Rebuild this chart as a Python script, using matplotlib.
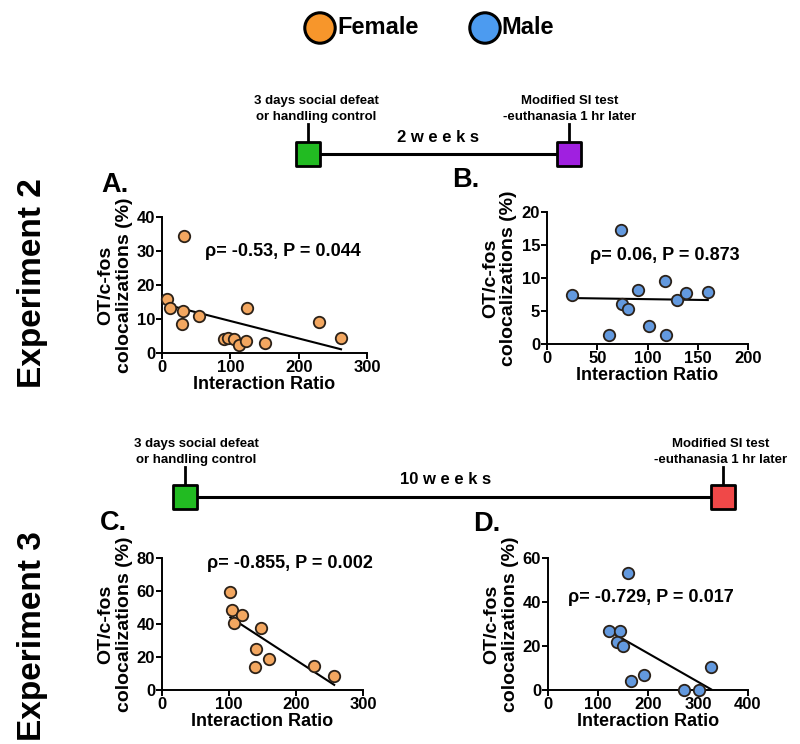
import matplotlib
matplotlib.use("Agg")
import matplotlib.pyplot as plt
import numpy as np

plt.rcParams["font.family"] = ["Liberation Sans", "DejaVu Sans"]
plt.rcParams["font.weight"] = "bold"

# experiment 2, 2 weeks
ir_a = [7, 11, 30, 29, 32, 54, 90, 97, 105, 113, 123, 124, 150, 230, 262]
ot_a = [16.0, 13.2, 12.5, 8.4, 34.4, 10.8, 4.0, 4.4, 4.0, 2.5, 3.5, 13.3, 2.9, 9.0, 4.5]
ir_b = [25, 62, 74, 75, 81, 91, 101, 117, 118, 129, 138, 160]
ot_b = [7.4, 1.4, 17.3, 6.0, 5.3, 8.2, 2.8, 9.5, 1.4, 6.6, 7.8, 7.9]
# experiment 3, 10 weeks
ir_c = [102, 105, 107, 119, 148, 140, 139, 160, 227, 257]
ot_c = [59.3, 48.6, 40.5, 45.6, 37.4, 24.7, 13.8, 19.0, 14.8, 8.5]
ir_d = [122, 144, 138, 150, 160, 165, 191, 272, 302, 326]
ot_d = [27.0, 26.9, 22.0, 20.1, 53.2, 4.1, 6.8, 0.0, 0.0, 10.6]

stats = ["\u03c1= -0.53, P = 0.044", "\u03c1= 0.06, P = 0.873",
         "\u03c1= -0.855, P = 0.002", "\u03c1= -0.729, P = 0.017"]

female = "#F3A760"
male = "#6399DE"

fig = plt.figure(figsize=(8, 7.44), dpi=100)


def px_axes(left, top, right, bottom):
    return fig.add_axes([left / 800, 1 - bottom / 744,
                         (right - left) / 800, (bottom - top) / 744])


def panel(ax, xs, ys, color, xlim, ylim, xticks, yticks):
    xs = np.array(xs)
    ys = np.array(ys)
    ax.scatter(xs, ys, s=68, facecolor=color, edgecolor="#2b2118",
               linewidth=1.3, zorder=3, clip_on=False)
    k, b = np.polyfit(xs, ys, 1)
    xx = np.array([xs.min(), xs.max()])
    ax.plot(xx, k * xx + b, color="black", lw=1.5, zorder=2)
    ax.set_xlim(*xlim)
    ax.set_ylim(*ylim)
    ax.set_xticks(xticks)
    ax.set_yticks(yticks)
    ax.patch.set_alpha(0)
    for s in ["top", "right"]:
        ax.spines[s].set_visible(False)
    for s in ["left", "bottom"]:
        ax.spines[s].set_linewidth(1.4)
    ax.tick_params(width=1.4, length=4, labelsize=12, pad=1)
    for lab in ax.get_xticklabels() + ax.get_yticklabels():
        lab.set_fontweight("bold")
    ax.set_xlabel("Interaction Ratio", fontsize=13, fontweight="bold", labelpad=1)
    ax.set_ylabel("OT/c-fos\ncolocalizations (%)", fontsize=14, fontweight="bold",
                  labelpad=3, linespacing=1.12)


ax_a = px_axes(162, 217, 367, 353)
panel(ax_a, ir_a, ot_a, female, (0, 300), (0, 40), [0, 100, 200, 300], [0, 10, 20, 30, 40])
ax_b = px_axes(547, 212, 748, 344)
panel(ax_b, ir_b, ot_b, male, (0, 200), (0, 20), [0, 50, 100, 150, 200], [0, 5, 10, 15, 20])
ax_c = px_axes(162, 558, 363, 690)
panel(ax_c, ir_c, ot_c, female, (0, 300), (0, 80), [0, 100, 200, 300], [0, 20, 40, 60, 80])
ax_d = px_axes(548, 558, 748, 690)
panel(ax_d, ir_d, ot_d, male, (0, 400), (0, 60), [0, 100, 200, 300, 400], [0, 20, 40, 60])

# overlay in pixel coordinates for the annotations
ov = fig.add_axes([0, 0, 1, 1], zorder=10)
ov.set_xlim(0, 800)
ov.set_ylim(744, 0)
ov.axis("off")

for (x, y), s in zip([(205, 252), (590, 255), (207, 563), (568, 597)], stats):
    ov.text(x, y, s, fontsize=13, fontweight="bold", ha="left", va="center")

for (x, y), s in zip([(101, 185), (452, 180), (100, 523), (473, 524)], ["A.", "B.", "C.", "D."]):
    ov.text(x, y, s, fontsize=19.5, fontweight="bold", ha="left", va="center")

ov.text(33, 283, "Experiment 2", fontsize=24, fontweight="bold", rotation=90,
        ha="center", va="center")
ov.text(33, 636, "Experiment 3", fontsize=24, fontweight="bold", rotation=90,
        ha="center", va="center")

# legend
ov.scatter([320, 485], [28, 28], s=480, facecolor=["#F7962B", "#4C9BF0"],
           edgecolor="black", linewidth=2.2)
ov.text(337, 28, "Female", fontsize=17, fontweight="bold", va="center")
ov.text(501, 28, "Male", fontsize=17, fontweight="bold", va="center")

# timelines
narrow = ["Liberation Sans Narrow", "Liberation Sans", "DejaVu Sans"]


def timeline(x0, x1, y, c1, c2, span, span_x, left_lab, right_lab, lx0, lx1):
    ov.plot([x0, x1], [y, y], color="black", lw=2.2, zorder=1)
    ov.plot([x0, x0], [y, y - 30], color="black", lw=2, zorder=1)
    ov.plot([x1, x1], [y, y - 30], color="black", lw=2, zorder=1)
    ov.scatter([x0, x1], [y, y], marker="s", s=290, facecolor=[c1, c2],
               edgecolor="black", linewidth=2, zorder=3)
    ov.text(span_x, y - 17, span, fontsize=12, fontweight="bold",
            ha="center", va="center")
    ov.text(lx0, y - 45, left_lab, fontsize=9.5, fontweight="bold", ha="center",
            va="center", family=narrow, linespacing=1.35)
    ov.text(lx1, y - 45, right_lab, fontsize=9.5, fontweight="bold", ha="center",
            va="center", family=narrow, linespacing=1.35)


timeline(308, 569, 154, "#22BB22", "#A020E0", "2 w e e k s", 438,
         "3 days social defeat\nor handling control",
         "Modified SI test\n-euthanasia 1 hr later", 316, 570)
timeline(185, 723, 497, "#22BB22", "#F04848", "10 w e e k s", 446,
         "3 days social defeat\nor handling control",
         "Modified SI test\n-euthanasia 1 hr later", 196, 721)

fig.savefig("out.png", dpi=100, facecolor="white")
